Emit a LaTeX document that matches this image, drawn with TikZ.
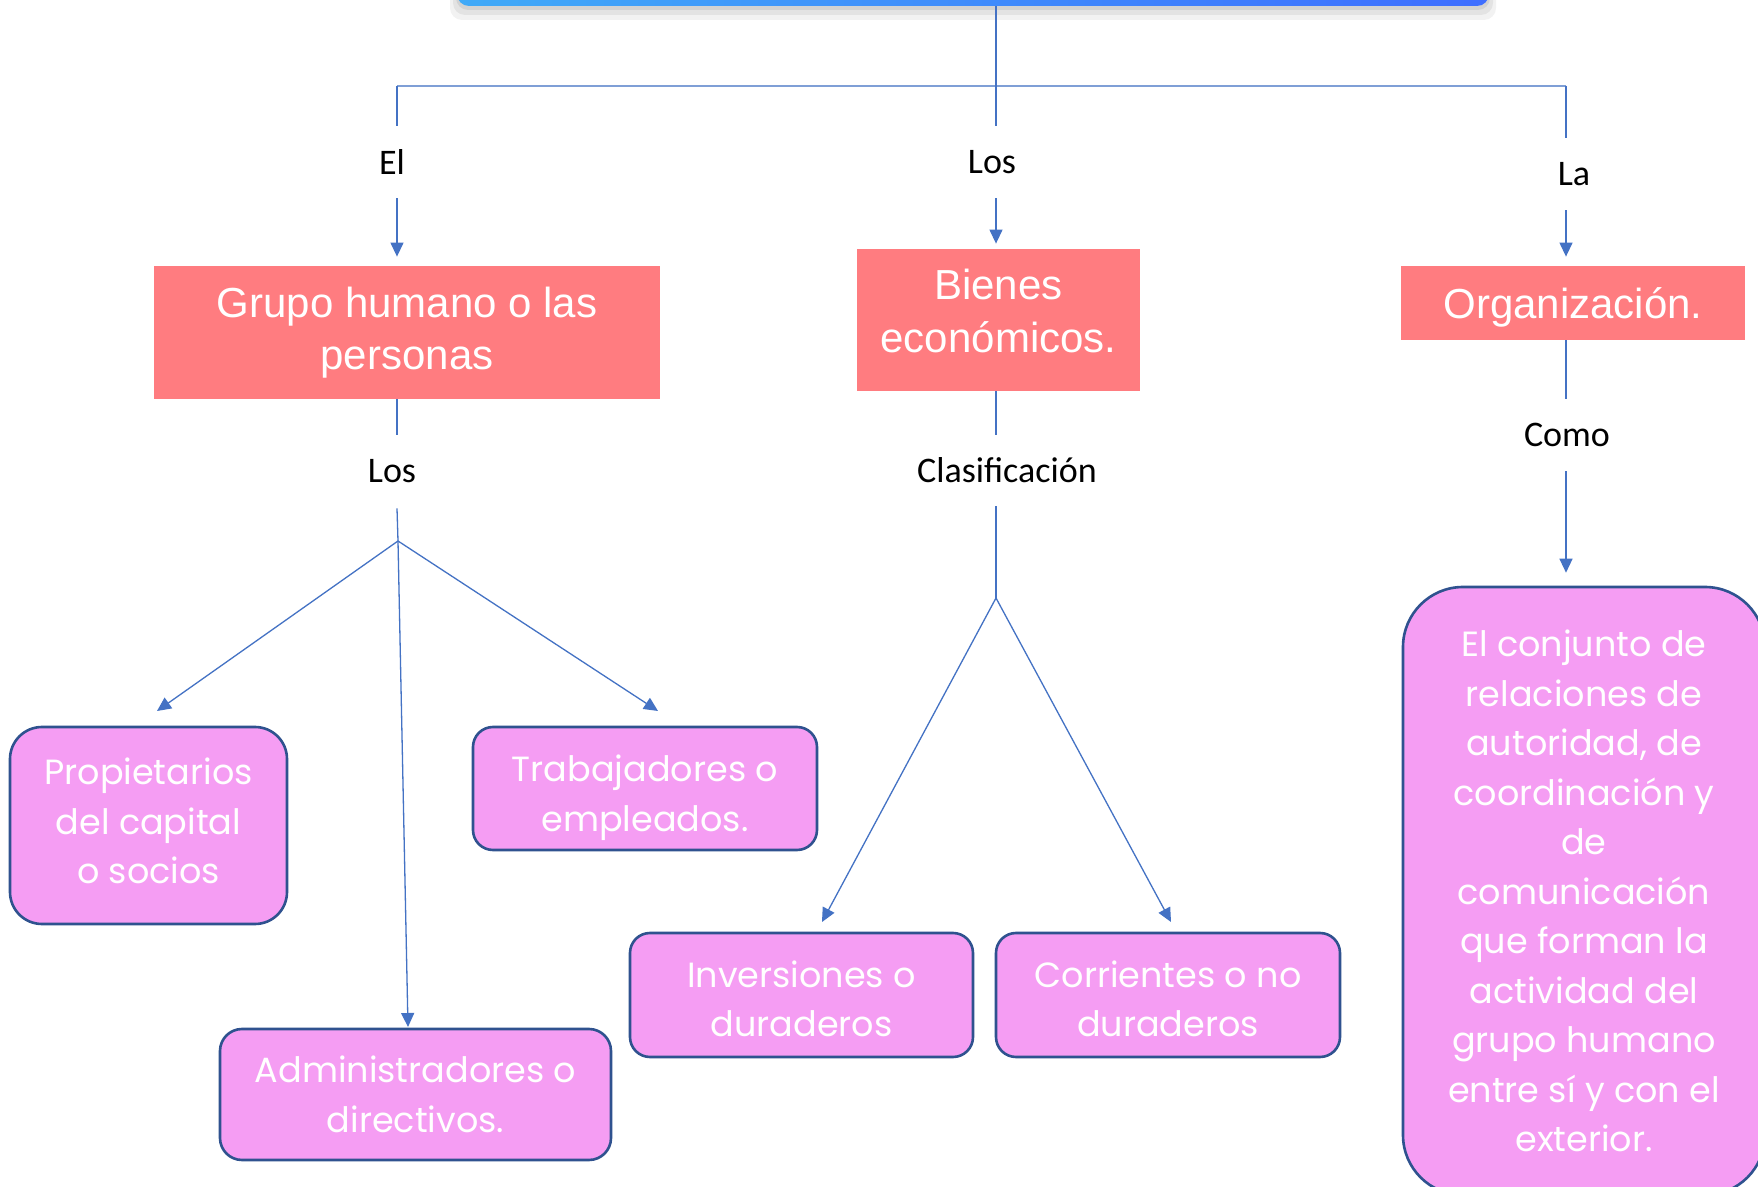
\documentclass[tikz,border=0pt]{standalone}
\usepackage{fontspec}
\setmainfont{Liberation Sans}
\newfontfamily\geofont{Poppins}
\newfontfamily\lblfont{Carlito}
\usetikzlibrary{arrows.meta,calc}
\definecolor{lnblue}{HTML}{4472C4}
\definecolor{hlblue}{HTML}{7F9FD6}
\definecolor{redbox}{HTML}{FF7C80}
\definecolor{pinkbox}{HTML}{F59DF3}
\definecolor{pinkedge}{HTML}{2F528F}
\definecolor{barL}{HTML}{40AAF8}
\definecolor{barR}{HTML}{3F6EFF}
\begin{document}
\begin{tikzpicture}[x=0.5pt,y=-0.5pt,
  conn/.style={draw=lnblue,line width=0.65pt},
  hline/.style={draw=hlblue,line width=1pt},
  arr/.style={conn,-{Triangle[length=7pt,width=6.5pt]}},
  redstyle/.style={fill=redbox,text=white,font=\fontsize{21}{26.3}\selectfont,align=center,inner sep=0pt},
  pinkstyle/.style={fill=pinkbox,draw=pinkedge,line width=1.3pt,text=white,font=\geofont\fontsize{17.5}{24.75}\selectfont,align=center,inner sep=0pt},
  lbl/.style={font=\lblfont\fontsize{18}{22}\selectfont,inner sep=0pt,text=black},
  topbar/.style={left color=barL,right color=barR,rounded corners=6pt,inner sep=0pt}
]
\useasboundingbox (0,0) rectangle (1758,1187);
\fill[white] (0,0) rectangle (1758,1187);
% top bar with soft shadow
\fill[black,opacity=0.05,rounded corners=6pt] (450,-40) rectangle (1496,20);
\fill[black,opacity=0.06,rounded corners=6pt] (453,-40) rectangle (1493,15);
\fill[black,opacity=0.07,rounded corners=6pt] (456,-40) rectangle (1490,10);
\node[topbar,minimum width=516pt,minimum height=26pt] (top) at (973,-20) {};

% coordinates
\coordinate (jTop) at (996,86);
\coordinate (jL) at (397,86);
\coordinate (jR) at (1566,86);
\coordinate (bL) at (398,541);
\coordinate (bM) at (996,598);
\coordinate (tProp) at (157,711);
\coordinate (tAdm) at (408,1027);
\coordinate (tTrab) at (658,711);
\coordinate (tInv) at (822,922);
\coordinate (tCorr) at (1171,922);

% labels
\node[lbl,minimum height=36pt] (lEl) at (392,162) {El};
\node[lbl,minimum height=36pt] (lLos) at (992,162) {Los};
\node[lbl,minimum height=36pt] (lLa) at (1574,174) {La};
\node[lbl,minimum height=36.5pt] (lLos2) at (392,471.5) {Los};
\node[lbl,minimum height=35.5pt] (lClas) at (1007,470.5) {Clasificación};
\node[lbl,minimum height=36pt] (lComo) at (1567,435) {Como};

% red boxes
\node[redstyle,minimum width=253pt,minimum height=66.5pt] (grupo) at (407,332.5) {Grupo humano o las\\personas};
\node[redstyle,minimum width=141.5pt,minimum height=71pt] (bienes) at (998.5,320) {Bienes\\económicos.\rule[-9pt]{0pt}{9pt}};
\node[redstyle,minimum width=172pt,minimum height=37pt] (org) at (1573,303) {\rule{0pt}{20pt}Organización.};

% pink boxes
\node[pinkstyle,rounded corners=16pt,minimum width=138.5pt,minimum height=98.5pt] (prop) at (148.5,825.5) {Propietarios\\del capital\\o socios\rule[-4.5pt]{0pt}{4.5pt}};
\node[pinkstyle,rounded corners=10pt,minimum width=172pt,minimum height=61.5pt] (trab) at (645,788.5) {\rule{0pt}{22.5pt}Trabajadores o\\empleados.};
\node[pinkstyle,rounded corners=11pt,minimum width=195.5pt,minimum height=65.5pt] (adm) at (415.5,1094.5) {Administradores o\\directivos.};
\node[pinkstyle,rounded corners=10pt,minimum width=171.5pt,minimum height=62pt] (inv) at (801.5,995) {\rule{0pt}{17pt}Inversiones o\\duraderos};
\node[pinkstyle,rounded corners=10pt,minimum width=172pt,minimum height=62pt] (corr) at (1168,995) {\rule{0pt}{17pt}Corrientes o no\\duraderos};
\node[pinkstyle,rounded corners=30pt,minimum width=181pt,minimum height=304pt] (big) at (1584,891) {El conjunto de\\relaciones de\\autoridad, de\\coordinación y\\de\\comunicación\\que forman la\\actividad del\\grupo humano\\entre sí y con el\\exterior.};

% top connectors
\draw[hline] (jL) -- (jR);
\draw[conn] (top.south -| jTop) -- (jTop |- lLos.north);
\draw[conn] (jL) -- (jL |- lEl.north);
\draw[conn] (jR) -- (jR |- lLa.north);
\draw[arr,shorten >=4.5pt] (jL |- lEl.south) -- (jL |- grupo.north);
\draw[arr,shorten >=2.5pt] (jTop |- lLos.south) -- (jTop |- bienes.north);
\draw[arr,shorten >=4.5pt] (jR |- lLa.south) -- (jR |- org.north);

% grupo branch
\draw[conn] (jL |- grupo.south) -- (jL |- lLos2.north);
\draw[conn] (jL |- lLos2.south) -- (bL);
\draw[arr] (bL) -- (tProp);
\draw[arr] (bL) -- (tAdm);
\draw[arr] (bL) -- (tTrab);

% bienes branch
\draw[conn] (jTop |- bienes.south) -- (jTop |- lClas.north);
\draw[conn] (jTop |- lClas.south) -- (bM);
\draw[arr] (bM) -- (tInv);
\draw[arr] (bM) -- (tCorr);

% organizacion branch
\draw[conn] (jR |- org.south) -- (jR |- lComo.north);
\draw[arr,shorten >=6.5pt] (jR |- lComo.south) -- (jR |- big.north);
\end{tikzpicture}
\end{document}
